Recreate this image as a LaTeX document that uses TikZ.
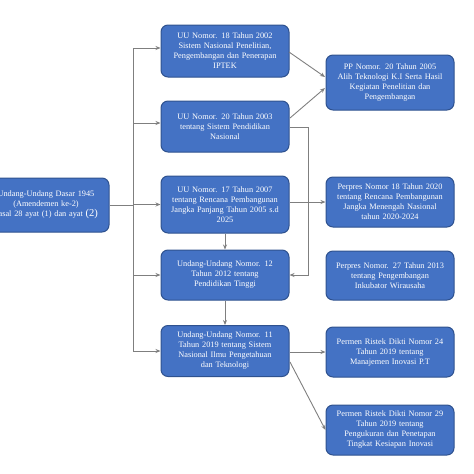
\documentclass[tikz,border=0pt]{standalone}
\usepackage{fontspec}
\setmainfont{Liberation Serif}
\usetikzlibrary{arrows.meta}
\definecolor{boxblue}{HTML}{4472C4}
\definecolor{boxedge}{HTML}{2F528F}
\definecolor{linegray}{HTML}{7F7F7F}
\begin{document}
\begin{tikzpicture}[x=1pt,y=-1pt,
  box/.style={draw=boxedge, line width=1pt, fill=boxblue, rounded corners=7pt,
    text=white, align=center, font=\fontsize{8.3}{10}\selectfont, inner sep=2pt},
  midbox/.style={box, minimum width=128pt, text width=122pt},
  conn/.style={draw=linegray, line width=0.9pt, -{Stealth[length=5pt,width=4pt]}},
  plain/.style={draw=linegray, line width=0.9pt}]
\useasboundingbox (0,0) rectangle (474,474);
\begin{scope}
\clip (0,0) rectangle (474,474);
\node[box, minimum width=124pt, minimum height=54pt, text width=122pt] (uud) at (46,205)
  {Undang-Undang Dasar 1945\\(Amendemen ke-2)\\Pasal 28 ayat (1) dan ayat {\fontsize{10.5}{10}\selectfont(2)}};
\end{scope}

\node[midbox, minimum height=52pt] (m1) at (225,51) {UU Nomor. 18 Tahun 2002\\Sistem Nasional Penelitian,\\Pengembangan dan Penerapan\\IPTEK};
\node[midbox, minimum height=51pt] (m2) at (225,126.5) {UU Nomor. 20 Tahun 2003\\tentang Sistem Pendidikan\\Nasional};
\node[midbox, minimum height=57pt] (m3) at (225,204.5) {UU Nomor. 17 Tahun 2007\\tentang Rencana Pembangunan\\Jangka Panjang Tahun 2005 s.d\\2025};
\node[midbox, minimum height=50pt] (m4) at (225,275) {Undang-Undang Nomor. 12\\Tahun 2012 tentang\\Pendidikan Tinggi};
\node[midbox, minimum height=51pt] (m5) at (225,351) {Undang-Undang Nomor. 11\\Tahun 2019 tentang Sistem\\Nasional Ilmu Pengetahuan\\dan Teknologi};

\node[midbox, minimum height=55pt] (r1) at (390,82.5) {PP Nomor. 20 Tahun 2005\\Alih Teknologi K.I Serta Hasil\\Kegiatan Penelitian dan\\Pengembangan};
\node[midbox, minimum height=50pt] (r2) at (390,202) {Perpres Nomor 18 Tahun 2020\\tentang Rencana Pembangunan\\Jangka Menengah Nasional\\tahun 2020-2024};
\node[midbox, minimum height=49pt] (r3) at (390,275.5) {Perpres Nomor. 27 Tahun 2013\\tentang Pengembangan\\Inkubator Wirausaha};
\node[midbox, minimum height=50pt] (r4) at (390,352) {Permen Ristek Dikti Nomor 24\\Tahun 2019 tentang\\Manajemen Inovasi P.T};
\node[midbox, minimum height=50pt] (r5) at (390,430) {Permen Ristek Dikti Nomor 29\\Tahun 2019 tentang\\Pengukuran dan Penetapan\\Tingkat Kesiapan Inovasi};

% spine
\coordinate (s0) at (133,205);
\coordinate (s1) at (133,48);
\coordinate (s2) at (133,123);
\coordinate (s3) at (133,204.5);
\coordinate (s4) at (133,275);
\coordinate (s5) at (133,351);
\draw[plain] (uud.east |- s0) -- (s0);
\draw[plain] (s1) -- (s5);
\draw[conn] (s1) -- (m1.west |- s1);
\draw[conn] (s2) -- (m2.west |- s2);
\draw[conn] (s3) -- (m3.west);
\draw[conn] (s4) -- (m4.west);
\draw[conn] (s5) -- (m5.west);

% middle to right
\coordinate (a1) at (289,52);
\coordinate (a2) at (325,77);
\coordinate (b1) at (290,118);
\coordinate (b2) at (325,88);
\draw[conn] (a1) -- (a2);
\draw[conn] (b1) -- (b2);
\coordinate (c1) at (308,127);
\coordinate (c2) at (308,275);
\draw[conn] (m2.east |- c1) -- (c1) -- (c2) -- (m4.east);
\draw[conn] (m3.east |- r2.west) -- (r2.west);
\draw[conn] (m3.south) -- (m4.north);
\draw[conn] (m4.south) -- (m5.north);
\draw[conn] (m5.east |- r4.west) -- (r4.west);
\coordinate (d1) at (290,362);
\draw[conn] (d1) -- (r5.west);
\end{tikzpicture}
\end{document}
